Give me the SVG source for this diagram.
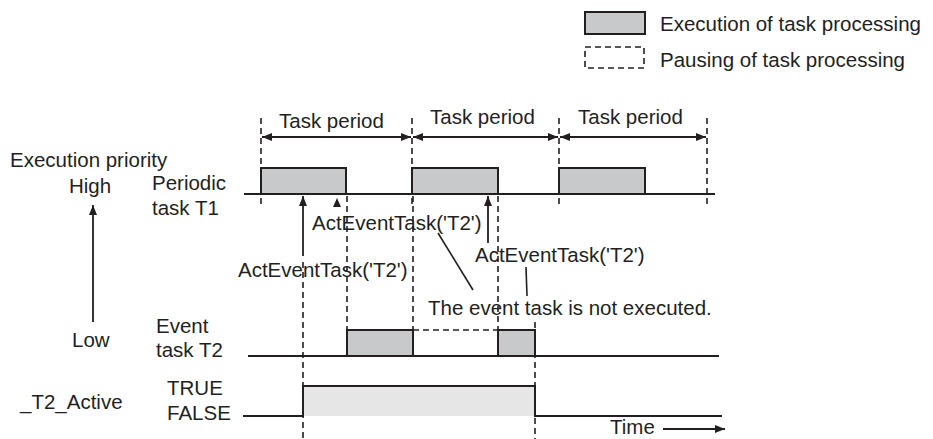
<svg xmlns="http://www.w3.org/2000/svg" width="933" height="439" viewBox="0 0 933 439">
<style>
text{font-family:"Liberation Sans",Arial,sans-serif;font-size:20.5px;fill:#231f20}
.box{fill:#c8c9cb;stroke:#231f20;stroke-width:2}
.ln{stroke:#231f20;stroke-width:2;fill:none}
.thin{stroke:#231f20;stroke-width:1.6;fill:none}
.dash{stroke:#231f20;stroke-width:1.6;fill:none;stroke-dasharray:6 4}
.arr{stroke:#231f20;stroke-width:1.8;fill:none}
</style>
<defs>
<marker id="ah" viewBox="0 0 10 8" refX="10" refY="4" markerWidth="10" markerHeight="8" markerUnits="userSpaceOnUse" orient="auto-start-reverse">
<path d="M0,0 L10,4 L0,8 Z" fill="#231f20"/>
</marker>
</defs>
<rect width="933" height="439" fill="#ffffff"/>

<g id="legend">
<rect class="box" x="585" y="12" width="60" height="22"/>
<text x="660" y="31">Execution of task processing</text>
<rect class="dash" x="585" y="47" width="59" height="21"/>
<text x="660" y="67">Pausing of task processing</text>
</g>

<g id="task-periods">
<path class="dash" d="M261,118V208M412,118V208M559,118V208M707,118V208"/>
<text x="279" y="128">Task period</text>
<text x="430" y="124">Task period</text>
<text x="578" y="124">Task period</text>
</g>

<g id="priority-axis">
<text x="10" y="167">Execution priority</text>
<text x="69" y="193">High</text>
<text x="72" y="347">Low</text>
</g>

<g id="periodic-task">
<text x="152" y="190">Periodic</text>
<text x="152" y="215">task T1</text>
<line class="ln" x1="244" y1="194" x2="715" y2="194"/>
<rect class="box" x="261" y="168" width="85" height="26"/>
<rect class="box" x="412" y="168" width="86" height="26"/>
<rect class="box" x="559" y="168" width="86" height="26"/>
</g>

<g id="event-task">
<text x="156" y="333">Event</text>
<text x="156" y="357">task T2</text>
<line class="ln" x1="248" y1="356" x2="719" y2="356"/>
<path class="dash" d="M413,330H498"/>
<rect class="box" x="347" y="330" width="66" height="26"/>
<rect class="box" x="498" y="330" width="37" height="26"/>
</g>

<g id="t2-active">
<text x="20" y="409">_T2_Active</text>
<text x="167" y="395">TRUE</text>
<text x="167" y="420">FALSE</text>
<rect x="303" y="386" width="232" height="30" fill="#e6e6e7"/>
<path class="ln" d="M243,416H303V386H535V416H722"/>
</g>

<g id="annotations">
<text x="312" y="230">ActEventTask('T2')</text>
<text x="238" y="277">ActEventTask('T2')</text>
<text x="475" y="262">ActEventTask('T2')</text>
<text x="428" y="315">The event task is not executed.</text>
<text x="610" y="434">Time</text>
</g>

<g id="connectors">
<line class="arr" x1="262" y1="137" x2="411" y2="137" marker-start="url(#ah)" marker-end="url(#ah)"/>
<line class="arr" x1="413" y1="137" x2="558" y2="137" marker-start="url(#ah)" marker-end="url(#ah)"/>
<line class="arr" x1="560" y1="137" x2="706" y2="137" marker-start="url(#ah)" marker-end="url(#ah)"/>
<line class="arr" x1="93" y1="322" x2="93" y2="205" marker-end="url(#ah)"/>
<line class="arr" x1="303" y1="256" x2="303" y2="196" marker-end="url(#ah)"/>
<line class="arr" x1="488" y1="243" x2="488" y2="196" marker-end="url(#ah)"/>
<path d="M337,198 L341,207 L333,207 Z" fill="#231f20"/>
<path class="dash" d="M303,262V439M347,196V330M413,196V330M498,196V330M535,322V386M535,418V439"/>
<line class="thin" x1="438" y1="233" x2="473" y2="290"/>
<line class="thin" x1="526" y1="267" x2="527" y2="296"/>
<line class="arr" x1="663" y1="429" x2="725" y2="429" marker-end="url(#ah)"/>
</g>
</svg>
